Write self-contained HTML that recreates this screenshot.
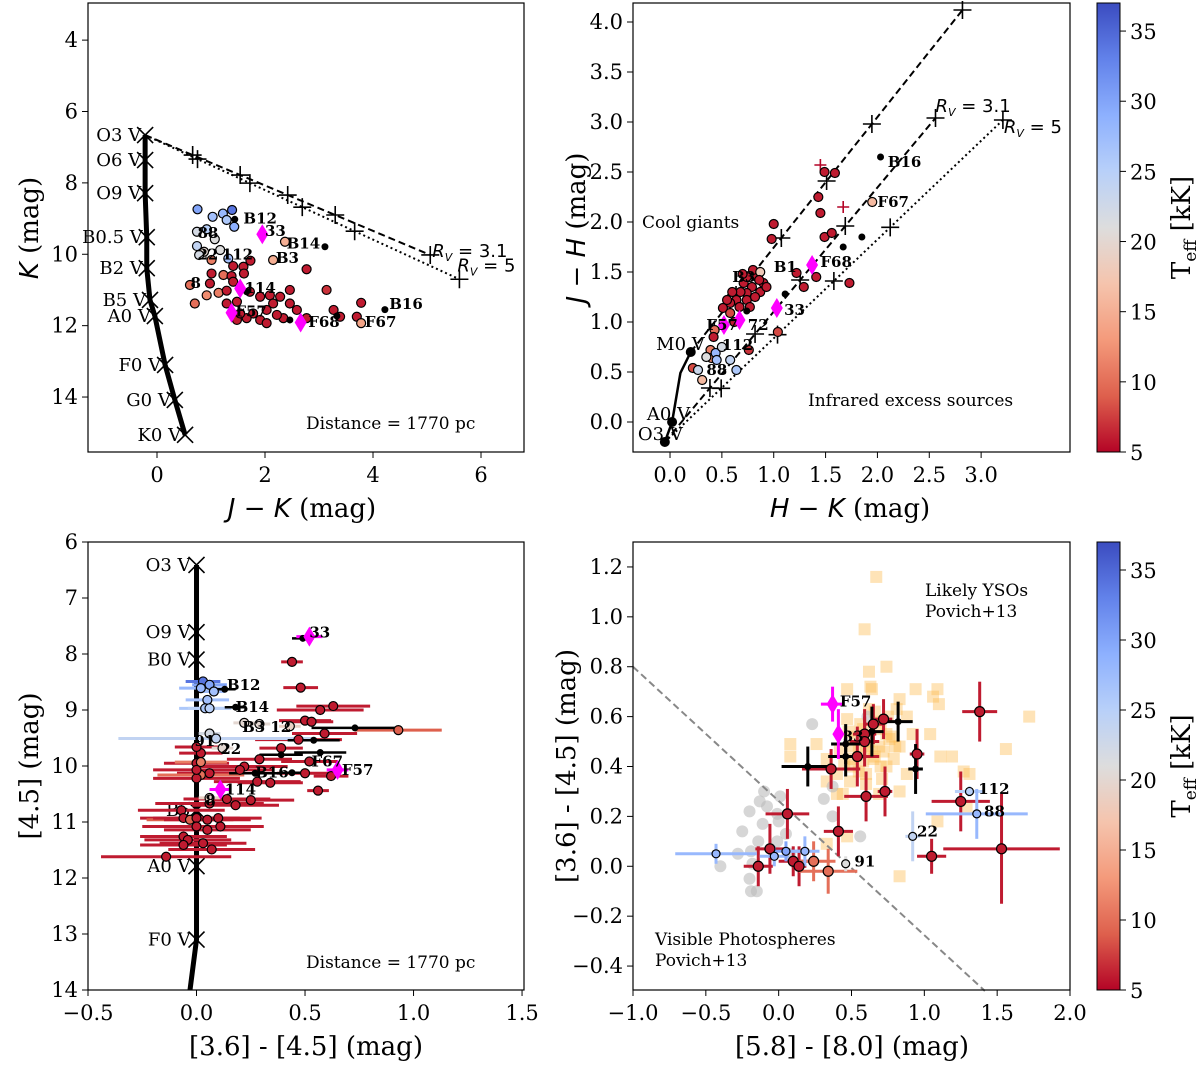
<!DOCTYPE html>
<html><head><meta charset="utf-8"><style>
body{margin:0;background:#fff}
svg{display:block}
.tk{font-family:"DejaVu Serif","Liberation Serif",serif;font-size:21px;fill:#000}
.al{font-family:"DejaVu Serif","Liberation Serif",serif;font-size:26px;fill:#000}
.it{font-family:"DejaVu Sans","Liberation Sans",sans-serif;font-style:italic}
.an{font-family:"DejaVu Serif","Liberation Serif",serif;font-size:17px;fill:#000}
.lb{font-family:"DejaVu Serif","Liberation Serif",serif;font-size:15px;font-weight:bold;fill:#000}
.sp{font-family:"DejaVu Serif","Liberation Serif",serif;font-size:18px;fill:#000}
</style></head><body>
<svg id="fig" xmlns="http://www.w3.org/2000/svg" width="1200" height="1068" viewBox="0 0 1200 1068">
<defs><linearGradient id="cw" x1="0" y1="0" x2="0" y2="1">
<stop offset="0" stop-color="rgb(59,76,192)"/><stop offset="0.125" stop-color="rgb(98,130,234)"/><stop offset="0.25" stop-color="rgb(141,176,254)"/><stop offset="0.375" stop-color="rgb(184,208,249)"/><stop offset="0.5" stop-color="rgb(221,221,221)"/><stop offset="0.625" stop-color="rgb(245,196,173)"/><stop offset="0.75" stop-color="rgb(244,154,123)"/><stop offset="0.875" stop-color="rgb(222,96,77)"/><stop offset="1" stop-color="rgb(180,4,38)"/></linearGradient></defs>
</svg>
<script>
// ---------- Panel 1 data (J-K vs K) ----------
const p1SpT=["O3 V","O6 V","O9 V","B0.5 V","B2 V","B5 V","A0 V","F0 V","G0 V","K0 V"];
const p1TrackX=[-0.22,-0.22,-0.22,-0.19,-0.19,-0.13,-0.04,0.15,0.33,0.52];
const p1TrackY=[6.66,7.36,8.29,9.52,10.39,11.28,11.73,13.10,14.08,15.06];
const avMarks=[5,10,15,20,30];
const p1Rv31End=[5.06,10.02];
const p1Rv5End=[5.6,10.7];
const p1X=[0.75,1.03,1.22,1.39,1.29,1.43,0.74,0.92,1.07,0.74,0.87,0.78,1.32,1.17,1.01,1.41,1.60,1.73,1.61,2.77,1.01,1.23,1.38,0.98,1.41,0.61,0.70,0.92,1.14,1.29,1.29,1.48,1.72,1.91,2.09,2.28,2.15,2.03,1.78,1.91,2.03,2.46,2.46,2.59,2.34,2.77,3.14,3.27,3.39,3.70,3.78,3.78,2.15,2.37,1.48,1.66,2.22,1.54];
const p1Y=[8.74,8.95,8.86,8.76,9.04,9.23,9.37,9.30,9.58,9.77,9.93,10.02,10.12,9.88,10.16,10.33,10.35,10.18,10.54,10.42,10.54,10.58,10.61,10.82,10.77,10.86,11.38,11.15,11.08,11.02,11.38,11.33,11.05,11.19,11.15,11.19,11.38,11.56,11.66,11.84,11.93,11.00,11.38,11.56,11.79,11.79,11.00,11.56,11.75,11.75,11.36,11.93,10.16,9.65,11.84,11.79,11.70,11.66];
const p1T=[30,27,28,34,26,29,22,25,21,24,20,22,27,21,11,6,6,6,6,6,6,10,6,6,6,10,10,12,11,6,6,6,6,6,6,6,6,6,6,6,6,6,6,6,6,6,7,6,6,6,6,14,15,15,6,6,6,6];
const p1BlkX=[3.11,4.22,1.44,1.66,2.46,3.33];
const p1BlkY=[9.79,11.55,9.02,11.05,11.84,11.73];
const p1DiaX=[1.95,1.54,1.38,2.66];
const p1DiaY=[9.44,10.96,11.64,11.91];
const p1Lab=["B12","88","33","B14","22","112","B3","8","114","F57","F68","B16","F67"];
const p1LabX=[1.6,0.75,2.0,2.4,0.75,1.2,2.2,0.62,1.62,1.45,2.8,4.3,3.85];
const p1LabY=[9.0,9.4,9.35,9.7,10.0,10.0,10.1,10.8,10.95,11.6,11.9,11.4,11.9];
// ---------- Panel 2 data (H-K vs J-H) ----------
const p2TrackX=[-0.05,0.02,0.10,0.20];
const p2TrackY=[-0.20,0.00,0.49,0.70];
const p2GiantStart=[0.20,0.70], p2GiantEnd=[2.82,4.12];
const p2Rv31End=[2.56,3.04], p2Rv5End=[3.21,3.02];
const p2X=[1.49,1.59,1.43,1.45,1.00,0.98,1.49,1.56,1.95,1.73,1.41,1.29,1.22,0.71,0.79,0.87,0.90,0.84,0.74,0.64,0.58,0.74,0.55,0.51,0.67,0.77,0.80,0.74,0.93,0.58,0.43,0.42,0.76,1.04,0.39,0.40,0.22,0.31,0.87,0.62,0.44,0.45,0.58,0.64,0.27,0.35,0.50,0.68,0.82,0.60,0.70,0.86];
const p2Y=[2.50,2.49,2.25,2.09,1.98,1.83,1.85,1.89,2.20,1.39,1.45,1.35,1.49,1.39,1.35,1.30,1.39,1.45,1.29,1.22,1.19,1.22,1.22,1.14,1.15,1.15,1.52,1.45,1.35,1.09,0.92,0.85,0.72,0.90,0.72,0.64,0.54,0.42,1.50,1.00,0.69,0.62,0.62,0.52,0.52,0.65,0.75,1.30,1.25,1.30,1.48,1.42];
const p2T=[6,6,6,6,6,6,6,6,16,6,6,6,6,6,6,6,6,6,6,6,6,6,6,6,6,6,6,6,6,8,10,6,7,8,11,12,8,16,18,6,28,27,24,26,23,21,22,6,6,6,6,6];
const p2BlkX=[2.03,1.85,1.67,1.11,0.74];
const p2BlkY=[2.65,1.85,1.75,1.28,1.11];
const p2DiaX=[0.52,0.67,1.03,1.37];
const p2DiaY=[0.97,1.02,1.14,1.57];
const p2PlusX=[1.45,1.67], p2PlusY=[2.57,2.15];
const p2Lab=["B16","F67","F68","B1","B3","33","F57","72","112","88"];
const p2LabX=[2.1,2.0,1.45,1.0,0.6,1.1,0.35,0.75,0.5,0.35];
const p2LabY=[2.6,2.2,1.6,1.55,1.45,1.12,0.97,0.97,0.77,0.52];
// ---------- Panel 3 data ([3.6]-[4.5] vs [4.5]) ----------
const p3SpT=["O3 V","O9 V","B0 V","B5","A0 V","F0 V"];
const p3TrackX=[0,0,0,0,0,0,-0.03];
const p3TrackY=[6.41,7.61,8.1,10.79,11.79,13.1,14.0];
const p3X=[0.44,0.48,0.63,0.57,0.50,0.53,0.59,0.93,0.47,0.39,0.52,0.50,0.62,0.29,0.22,0.20,0.28,0.34,0.56,0.14,0.25,0.18,0.06,0.06,0.02,0.00,0.02,0.00,0.02,0.00,0.00,-0.07,-0.06,-0.03,0.00,0.05,0.10,0.00,0.05,0.11,-0.06,-0.04,0.03,0.07,-0.06,-0.14,0.03,0.06,0.02,0.08,0.05,0.04,0.06,0.22,0.29,0.43,0.06,0.09,0.12,0.06];
const p3Y=[8.14,8.60,8.93,9.00,9.19,9.21,9.42,9.36,9.53,9.68,9.92,10.13,10.18,9.88,10.01,10.07,10.28,10.30,10.44,10.59,10.61,10.70,10.67,10.13,10.16,10.22,9.77,9.95,9.93,9.66,10.07,10.79,10.93,10.96,10.93,10.96,10.93,11.08,11.14,11.08,11.26,11.32,11.38,11.49,11.41,11.62,8.49,8.55,8.61,8.67,8.82,8.97,8.97,9.23,9.25,9.29,9.42,9.51,9.68,10.57];
const p3T=[6,6,6,6,6,6,6,9,6,6,6,6,6,6,6,6,6,6,6,6,6,6,6,6,10,6,6,6,11,6,6,6,6,9,6,6,6,6,6,6,6,6,6,6,6,6,34,30,28,27,27,26,25,20,20,19,22,24,20,19];
const p3Err=[0.05,0.08,0.17,0.2,0.12,0.1,0.15,0.2,0.2,0.1,0.13,0.13,0.08,0.15,0.2,0.15,0.2,0.15,0.05,0.2,0.2,0.2,0.25,0.15,0.2,0.2,0.1,0.15,0.12,0.1,0.2,0.2,0.2,0.2,0.2,0.2,0.2,0.25,0.2,0.2,0.2,0.2,0.2,0.2,0.2,0.3,0.08,0.08,0.1,0.05,0.1,0.12,0.1,0.05,0.05,0.05,0.05,0.45,0.05,0.05];
const p3BlkX=[0.49,0.73,0.54,0.39,0.57,0.44,0.27,0.18,0.13];
const p3BlkY=[7.72,9.32,9.54,9.80,9.76,10.12,10.13,8.95,8.63];
const p3BlkErr=[0.05,0.2,0.12,0.1,0.12,0.05,0.12,0.05,0.05];
const p3DiaX=[0.52,0.65,0.11], p3DiaY=[7.69,10.07,10.42], p3DiaErr=[0.06,0.05,0.05];
const p3Lab=["33","B12","B14","B3","12","91","22","F67","F57","B16","114","8"];
const p3LabX=[0.52,0.14,0.18,0.21,0.34,-0.01,0.11,0.53,0.67,0.27,0.13,0.04];
const p3LabY=[7.62,8.55,8.95,9.3,9.3,9.55,9.7,9.92,10.07,10.12,10.42,10.62];
// ---------- Panel 4 data ([5.8]-[8.0] vs [3.6]-[4.5]) ----------
const p4DivX=[-1.0,1.416], p4DivY=[0.8,-0.5];
const p4SqX=[0.67,0.59,0.62,0.74,0.64,0.94,1.09,1.06,1.10,1.04,1.72,1.56,1.11,1.19,1.27,0.08,0.08,0.26,0.47,0.63,0.83,0.88,0.92,0.83,0.74,0.83,0.69,0.44,0.33,0.40,0.49,0.60,0.65,0.79,0.88,0.74,0.47,0.33,0.83,0.47,0.33,1.09,1.29,1.31,0.60,0.69,0.76,0.81,0.51,0.40,0.55,0.70,0.58,0.66,0.50,0.52,0.56,0.62,0.68,0.72,0.78,0.64,0.58,0.50,0.45,0.70,0.75,0.55,0.60,0.66,0.48,0.42,0.80,0.62,0.71];
const p4SqY=[1.16,0.95,0.78,0.80,0.71,0.71,0.71,0.68,0.65,0.53,0.60,0.47,0.44,0.44,0.38,0.49,0.44,0.49,0.71,0.72,0.67,0.60,0.53,0.48,0.40,0.30,0.29,0.29,0.34,0.37,0.34,0.37,0.43,0.43,0.37,0.53,0.59,0.43,-0.04,0.12,0.09,0.18,0.24,0.37,0.48,0.48,0.51,0.63,0.43,0.29,0.46,0.40,0.55,0.62,0.40,0.52,0.57,0.50,0.58,0.46,0.52,0.46,0.42,0.48,0.41,0.55,0.60,0.38,0.33,0.44,0.54,0.47,0.48,0.63,0.35];
const p4GrX=[0.23,0.01,-0.08,-0.01,-0.11,-0.14,-0.01,0.05,-0.19,-0.18,-0.40,-0.19,0.31,0.37,0.56,0.37,0.08,-0.13,-0.25,-0.20,-0.28,-0.15,-0.20,0.00,-0.10,0.61];
const p4GrY=[0.57,0.28,0.24,0.21,0.17,0.10,0.10,0.13,0.06,0.01,0.00,-0.10,0.27,0.20,0.12,0.32,0.05,0.26,0.14,0.22,0.05,-0.10,-0.05,0.18,0.30,0.60];
const p4X=[1.38,0.72,0.65,0.59,0.59,0.54,0.36,0.95,0.60,0.73,1.25,0.06,0.41,-0.06,-0.14,0.10,0.14,0.24,0.34,1.05,1.53,-0.43,-0.03,0.05,0.18,1.31,1.36,0.92,0.46];
const p4Y=[0.62,0.59,0.57,0.53,0.50,0.44,0.39,0.45,0.28,0.30,0.26,0.21,0.14,0.07,0.00,0.02,0.00,0.02,-0.02,0.04,0.07,0.05,0.04,0.06,0.06,0.30,0.21,0.12,0.01];
const p4T=[6,6,6,6,6,6,6,6,6,6,6,6,6,6,6,6,6,10,10,6,6,28,28,30,28,25,28,24,21];
const p4XErr=[0.12,0.06,0.06,0.08,0.1,0.15,0.2,0.05,0.15,0.05,0.2,0.15,0.1,0.1,0.1,0.1,0.05,0.15,0.2,0.1,0.4,0.28,0.1,0.1,0.1,0.1,0.35,0.05,0.03];
const p4YErr=[0.12,0.08,0.08,0.1,0.1,0.12,0.08,0.1,0.1,0.1,0.12,0.1,0.1,0.1,0.08,0.06,0.08,0.08,0.09,0.07,0.22,0.04,0.04,0.04,0.06,0.02,0.1,0.1,0.03];
const p4BlkX=[0.20,0.46,0.82,0.94,0.64,0.46], p4BlkY=[0.40,0.44,0.58,0.39,0.54,0.49];
const p4BlkXErr=[0.18,0.12,0.1,0.05,0.08,0.1], p4BlkYErr=[0.08,0.08,0.08,0.1,0.1,0.08];
const p4DiaX=[0.37,0.41], p4DiaY=[0.65,0.53], p4DiaXErr=[0.08,0.03], p4DiaYErr=[0.07,0.1];
const p4Lab=["F57","33","112","88","22","91"];
const p4LabX=[0.42,0.44,1.37,1.41,0.95,0.52];
const p4LabY=[0.66,0.52,0.31,0.22,0.14,0.02];
const cbTicks=[5,10,15,20,25,30,35];

const NS="http://www.w3.org/2000/svg";
const svg=document.getElementById('fig');
function mk(tag,attrs,parent){const e=document.createElementNS(NS,tag);for(const k in attrs)e.setAttribute(k,attrs[k]);(parent||svg).appendChild(e);return e;}
const stops=[[59,76,192],[98,130,234],[141,176,254],[184,208,249],[221,221,221],[245,196,173],[244,154,123],[222,96,77],[180,4,38]];
function cmap(t){let u=1-(t-5)/32;u=Math.max(0,Math.min(1,u));const f=u*8,i=Math.min(7,Math.floor(f)),r=f-i;const a=stops[i],b=stops[i+1];return 'rgb('+a.map((v,k)=>Math.round(v+(b[k]-v)*r)).join(',')+')';}
function axis(px0,px1,vx0,vx1,py0,py1,vy0,vy1){return {x:v=>px0+(v-vx0)/(vx1-vx0)*(px1-px0),y:v=>py0+(v-vy0)/(vy1-vy0)*(py1-py0),px0,px1,py0,py1};}
const A1=axis(88,524,-1.278,6.796,3,452,2.96,15.54);
const A2=axis(633,1070,-0.357,3.857,3,452,4.19,-0.30);
const A3=axis(88,524,-0.5,1.509,542,990,6,14);
const A4=axis(633,1070,-1,2,542,990,1.3,-0.496);
function frame(A,name,xt,xl,yt,yl){
  const g=mk('g',{});
  const fr=mk('rect',{x:A.px0,y:A.py0,width:A.px1-A.px0,height:A.py1-A.py0,fill:'none',stroke:'#000','stroke-width':1.2});
  
  xt.forEach((v,i)=>{const x=A.x(v);mk('line',{x1:x,x2:x,y1:A.py1,y2:A.py1+6,stroke:'#000'},g);
    const t=mk('text',{x:x,y:A.py1+30,'text-anchor':'middle',class:'tk'},g);t.textContent=xl[i];
    });
  yt.forEach((v,i)=>{const y=A.y(v);mk('line',{x1:A.px0-6,x2:A.px0,y1:y,y2:y,stroke:'#000'},g);
    const t=mk('text',{x:A.px0-10,y:y+7,'text-anchor':'end',class:'tk'},g);t.textContent=yl[i];
    });
  return g;}
function circ(A,x,y,fill,r,g){const c=mk('circle',{cx:A.x(x),cy:A.y(y),r:r||4.5,fill:fill,stroke:'#000','stroke-width':1.2},g);return c;}
function dia(A,x,y,g){const X=A.x(x),Y=A.y(y);const p=mk('polygon',{points:`${X},${Y-10} ${X+6},${Y} ${X},${Y+10} ${X-6},${Y}`,fill:'#ff00ff'},g);}
function xmark(X,Y,s,g){mk('path',{d:`M${X-s},${Y-s}L${X+s},${Y+s}M${X-s},${Y+s}L${X+s},${Y-s}`,stroke:'#000','stroke-width':1.6,fill:'none'},g);}
function pmark(X,Y,s,g,c){mk('path',{d:`M${X-s},${Y}L${X+s},${Y}M${X},${Y-s}L${X},${Y+s}`,stroke:c||'#000','stroke-width':1.6,fill:'none'},g);}
function txt(X,Y,s,cls,anchor,g,name){const t=mk('text',{x:X,y:Y,class:cls,'text-anchor':anchor||'start'},g);t.textContent=s;return t;}
function lerp(a,b,f){return [a[0]+(b[0]-a[0])*f,a[1]+(b[1]-a[1])*f];}
const rvHtml=s=>'<tspan font-style="italic" font-family="DejaVu Sans">R</tspan><tspan font-size="11" dy="4" font-style="italic" font-family="DejaVu Sans">V</tspan><tspan dy="-4" font-family="DejaVu Sans"> = '+s+'</tspan>';

// ===== Panel 1 =====
let g1=frame(A1,'panel-jk-k',[0,2,4,6],['0','2','4','6'],[4,6,8,10,12,14],['4','6','8','10','12','14']);
const o1=[p1TrackX[0],p1TrackY[0]];
mk('line',{x1:A1.x(o1[0]),y1:A1.y(o1[1]),x2:A1.x(p1Rv31End[0]),y2:A1.y(p1Rv31End[1]),stroke:'#000','stroke-width':2,'stroke-dasharray':'7,4'},g1);
mk('line',{x1:A1.x(o1[0]),y1:A1.y(o1[1]),x2:A1.x(p1Rv5End[0]),y2:A1.y(p1Rv5End[1]),stroke:'#000','stroke-width':2,'stroke-dasharray':'2,3'},g1);
avMarks.forEach(a=>{const f=a/30;[p1Rv31End,p1Rv5End].forEach(e=>{const p=lerp(o1,e,f);pmark(A1.x(p[0]),A1.y(p[1]),9,g1);});});
mk('polyline',{points:p1TrackX.map((v,i)=>A1.x(v)+','+A1.y(p1TrackY[i])).join(' '),fill:'none',stroke:'#000','stroke-width':5},g1);
p1TrackX.forEach((v,i)=>{xmark(A1.x(v),A1.y(p1TrackY[i]),8,g1);txt(A1.x(v)-4,A1.y(p1TrackY[i])+6,p1SpT[i],'sp','end',g1,'spectral-type-label');});
txt(A1.x(p1Rv31End[0])+2,A1.y(p1Rv31End[1])+2,'','sp','start',g1,'rv31-label').innerHTML=rvHtml('3.1');
txt(A1.x(p1Rv5End[0])-2,A1.y(p1Rv5End[1])-8,'','sp','start',g1,'rv5-label').innerHTML=rvHtml('5');
p1X.forEach((v,i)=>circ(A1,v,p1Y[i],cmap(p1T[i]),4.5,g1));
p1BlkX.forEach((v,i)=>{const c=mk('circle',{cx:A1.x(v),cy:A1.y(p1BlkY[i]),r:3.5,fill:'#000'},g1);});
p1DiaX.forEach((v,i)=>dia(A1,v,p1DiaY[i],g1));
p1Lab.forEach((s,i)=>txt(A1.x(p1LabX[i]),A1.y(p1LabY[i])+5,s,'lb','start',g1,'star-label'));
txt(306,429,'Distance = 1770 pc','an','start',g1,'distance-note');

// ===== Panel 2 =====
let g2=frame(A2,'panel-hk-jh',[0,0.5,1,1.5,2,2.5,3],['0.0','0.5','1.0','1.5','2.0','2.5','3.0'],[0,0.5,1,1.5,2,2.5,3,3.5,4],['0.0','0.5','1.0','1.5','2.0','2.5','3.0','3.5','4.0']);
const o2=[p2TrackX[0],p2TrackY[0]];
[[p2GiantStart,p2GiantEnd,'7,4'],[o2,p2Rv31End,'7,4'],[o2,p2Rv5End,'2,3']].forEach(L=>{
  mk('line',{x1:A2.x(L[0][0]),y1:A2.y(L[0][1]),x2:A2.x(L[1][0]),y2:A2.y(L[1][1]),stroke:'#000','stroke-width':2,'stroke-dasharray':L[2]},g2);
  avMarks.forEach(a=>{const p=lerp(L[0],L[1],a/30);pmark(A2.x(p[0]),A2.y(p[1]),9,g2);});});
mk('polyline',{points:p2TrackX.map((v,i)=>A2.x(v)+','+A2.y(p2TrackY[i])).join(' '),fill:'none',stroke:'#000','stroke-width':2.5},g2);
[0,1,3].forEach(i=>mk('circle',{cx:A2.x(p2TrackX[i]),cy:A2.y(p2TrackY[i]),r:5,fill:'#000'},g2));
txt(A2.x(p2TrackX[0])+18,A2.y(p2TrackY[0])-2,'O3 V','sp','end',g2,'o3v-label');
txt(A2.x(p2TrackX[1])+18,A2.y(p2TrackY[1])-2,'A0 V','sp','end',g2,'a0v-label');
txt(A2.x(p2TrackX[3])+14,A2.y(p2TrackY[3])-2,'M0 V','sp','end',g2,'m0v-label');
txt(A2.x(p2Rv31End[0]),A2.y(p2Rv31End[1])-6,'','sp','start',g2,'rv31-label').innerHTML=rvHtml('3.1');
txt(A2.x(p2Rv5End[0])+1,A2.y(p2Rv5End[1])+13,'','sp','start',g2,'rv5-label').innerHTML=rvHtml('5');
p2PlusX.forEach((v,i)=>pmark(A2.x(v),A2.y(p2PlusY[i]),6,g2,'#b40426'));
p2X.forEach((v,i)=>circ(A2,v,p2Y[i],cmap(p2T[i]),4.5,g2));
p2BlkX.forEach((v,i)=>{const c=mk('circle',{cx:A2.x(v),cy:A2.y(p2BlkY[i]),r:3.5,fill:'#000'},g2);});
p2DiaX.forEach((v,i)=>dia(A2,v,p2DiaY[i],g2));
p2Lab.forEach((s,i)=>txt(A2.x(p2LabX[i]),A2.y(p2LabY[i])+5,s,'lb','start',g2,'star-label'));
txt(642,228,'Cool giants','an','start',g2,'cool-giants-note');
txt(808,406,'Infrared excess sources','an','start',g2,'ir-excess-note');

// ===== Panel 3 =====
let g3=frame(A3,'panel-irac-cmd',[-0.5,0,0.5,1,1.5],['\u22120.5','0.0','0.5','1.0','1.5'],[6,7,8,9,10,11,12,13,14],['6','7','8','9','10','11','12','13','14']);
mk('polyline',{points:p3TrackX.map((v,i)=>A3.x(v)+','+A3.y(p3TrackY[i])).join(' '),fill:'none',stroke:'#000','stroke-width':5},g3);
p3SpT.forEach((s,i)=>{xmark(A3.x(p3TrackX[i]),A3.y(p3TrackY[i]),8,g3);txt(A3.x(p3TrackX[i])-6,A3.y(p3TrackY[i])+6,s,'sp','end',g3,'spectral-type-label');});
p3X.forEach((v,i)=>{const y=A3.y(p3Y[i]);mk('line',{x1:A3.x(v-p3Err[i]),x2:A3.x(v+p3Err[i]),y1:y,y2:y,stroke:cmap(p3T[i]),'stroke-width':3},g3);});
p3BlkX.forEach((v,i)=>{const y=A3.y(p3BlkY[i]);mk('line',{x1:A3.x(v-p3BlkErr[i]),x2:A3.x(v+p3BlkErr[i]),y1:y,y2:y,stroke:'#000','stroke-width':2.5},g3);});
p3DiaX.forEach((v,i)=>{const y=A3.y(p3DiaY[i]);mk('line',{x1:A3.x(v-p3DiaErr[i]),x2:A3.x(v+p3DiaErr[i]),y1:y,y2:y,stroke:'#ff00ff','stroke-width':3},g3);});
p3X.forEach((v,i)=>circ(A3,v,p3Y[i],cmap(p3T[i]),4.5,g3));
p3BlkX.forEach((v,i)=>{const c=mk('circle',{cx:A3.x(v),cy:A3.y(p3BlkY[i]),r:3.5,fill:'#000'},g3);});
p3DiaX.forEach((v,i)=>dia(A3,v,p3DiaY[i],g3));
p3Lab.forEach((s,i)=>txt(A3.x(p3LabX[i]),A3.y(p3LabY[i])+5,s,'lb','start',g3,'star-label'));
txt(306,968,'Distance = 1770 pc','an','start',g3,'distance-note');

// ===== Panel 4 =====
let g4=frame(A4,'panel-irac-ccd',[-1,-0.5,0,0.5,1,1.5,2],['\u22121.0','\u22120.5','0.0','0.5','1.0','1.5','2.0'],[-0.4,-0.2,0,0.2,0.4,0.6,0.8,1.0,1.2],['\u22120.4','\u22120.2','0.0','0.2','0.4','0.6','0.8','1.0','1.2']);
p4SqX.forEach((v,i)=>{const s=mk('rect',{x:A4.x(v)-6,y:A4.y(p4SqY[i])-6,width:12,height:12,fill:'#fdb94a','fill-opacity':0.4},g4);});
p4GrX.forEach((v,i)=>{const c=mk('circle',{cx:A4.x(v),cy:A4.y(p4GrY[i]),r:6,fill:'#bbb','fill-opacity':0.6},g4);});
mk('line',{x1:A4.x(p4DivX[0]),y1:A4.y(p4DivY[0]),x2:A4.x(p4DivX[1]),y2:A4.y(p4DivY[1]),stroke:'#888','stroke-width':2,'stroke-dasharray':'7,4'},g4);
function errs(xs,ys,xe,ye,col,w){xs.forEach((v,i)=>{const X=A4.x(v),Y=A4.y(ys[i]);const c=typeof col==='function'?col(i):col;
  mk('line',{x1:A4.x(v-xe[i]),x2:A4.x(v+xe[i]),y1:Y,y2:Y,stroke:c,'stroke-width':w},g4);
  mk('line',{x1:X,x2:X,y1:A4.y(ys[i]-ye[i]),y2:A4.y(ys[i]+ye[i]),stroke:c,'stroke-width':w},g4);});}
errs(p4X,p4Y,p4XErr,p4YErr,i=>cmap(p4T[i]),3);
errs(p4BlkX,p4BlkY,p4BlkXErr,p4BlkYErr,'#000',3);
errs(p4DiaX,p4DiaY,p4DiaXErr,p4DiaYErr,'#ff00ff',3);
p4X.forEach((v,i)=>circ(A4,v,p4Y[i],cmap(p4T[i]),p4T[i]>18?4:5,g4));
p4BlkX.forEach((v,i)=>{const c=mk('circle',{cx:A4.x(v),cy:A4.y(p4BlkY[i]),r:3.5,fill:'#000'},g4);});
p4DiaX.forEach((v,i)=>dia(A4,v,p4DiaY[i],g4));
p4Lab.forEach((s,i)=>txt(A4.x(p4LabX[i]),A4.y(p4LabY[i])+5,s,'lb','start',g4,'star-label'));
txt(925,596,'Likely YSOs','an','start',g4,'yso-note');txt(925,617,'Povich+13','an','start',g4,'yso-ref');
txt(655,945,'Visible Photospheres','an','start',g4,'photosphere-note');txt(655,966,'Povich+13','an','start',g4,'photosphere-ref');

// ===== Colorbars =====
[[3,452],[542,990]].forEach((r,k)=>{const g=mk('g',{});
  mk('rect',{x:1097,y:r[0],width:23,height:r[1]-r[0],fill:'url(#cw)',stroke:'#000','stroke-width':1},g);
  const cy=v=>r[1]-(v-5)/32*(r[1]-r[0]);
  cbTicks.forEach(v=>{mk('line',{x1:1120,x2:1126,y1:cy(v),y2:cy(v),stroke:'#000'},g);const t=txt(1130,cy(v)+8,String(v),'tk','start',g,'colorbar-tick-label');t.setAttribute('font-size','22');});
  const m=(r[0]+r[1])/2;const t=mk('text',{x:1190,y:m,class:'al','text-anchor':'middle',transform:`rotate(-90 1190 ${m})`},g);
  t.innerHTML='T<tspan font-size="17" dy="6">eff</tspan><tspan dy="-6"> [kK]</tspan>';});

// ===== Axis titles =====
function atitle(x,y,html,rot,name){const t=mk('text',{x:x,y:y,class:'al','text-anchor':'middle'});if(rot)t.setAttribute('transform',`rotate(-90 ${x} ${y})`);t.innerHTML=html;}
atitle(302,517,'<tspan class="it">J</tspan> \u2212 <tspan class="it">K</tspan> (mag)',false,'x-axis-title-1');
atitle(38,228,'<tspan class="it">K</tspan> (mag)',true,'y-axis-title-1');
atitle(850,517,'<tspan class="it">H</tspan> \u2212 <tspan class="it">K</tspan> (mag)',false,'x-axis-title-2');
atitle(585,228,'<tspan class="it">J</tspan> \u2212 <tspan class="it">H</tspan> (mag)',true,'y-axis-title-2');
atitle(306,1055,'[3.6] - [4.5] (mag)',false,'x-axis-title-3');
atitle(38,766,'[4.5] (mag)',true,'y-axis-title-3');
atitle(852,1055,'[5.8] - [8.0] (mag)',false,'x-axis-title-4');
atitle(575,766,'[3.6] - [4.5] (mag)',true,'y-axis-title-4');
</script>
</body></html>
